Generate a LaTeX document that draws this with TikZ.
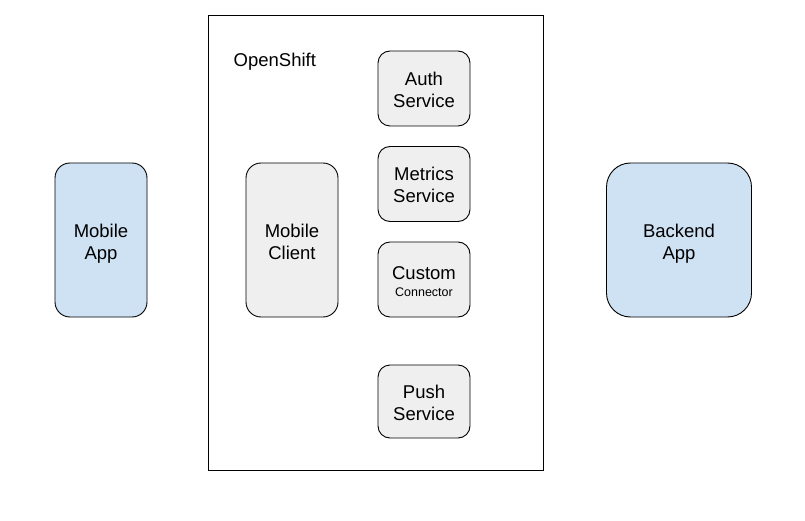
\documentclass[tikz,border=0pt]{standalone}
\usepackage{fontspec}
\setmainfont{Liberation Sans}
\usepackage{tikz}
\definecolor{appblue}{HTML}{CFE2F3}
\definecolor{svcgray}{HTML}{EFEFEF}
\def\twolines#1#2{\rule{0pt}{20pt}#1\\#2\rule[-4pt]{0pt}{4pt}}
\tikzset{
	box/.style={draw=black, line width=0.9pt, rectangle, align=center, inner sep=0pt,
		font=\fontsize{18.5}{22}\selectfont},
	appbox/.style={box, fill=appblue},
	svcbox/.style={box, fill=svcgray, rounded corners=12pt, minimum width=92pt, minimum height=75pt}
}
\begin{document}
\begin{tikzpicture}[x=1pt, y=-1pt]
		%%%%% START %%%%%
		\useasboundingbox (0, 0) rectangle (805, 521);
		
		\node[draw=black, line width=0.9pt, minimum width=335pt, minimum height=455pt, inner sep=0pt] (openshift) at (375.5, 242.5) {};
		\node[font=\fontsize{18.5}{22}\selectfont, anchor=base west, inner sep=0pt] (osname) at (233.5, 67) {OpenShift};
		
		\node[appbox, rounded corners=15pt, minimum width=92pt, minimum height=154pt] (mobileapp) at (101, 240) {\twolines{Mobile}{App}};
		\node[appbox, rounded corners=24pt, minimum width=145pt, minimum height=154pt] (backend) at (679, 240) {\twolines{Backend}{App}};
		
		\node[box, fill=svcgray, rounded corners=15pt, minimum width=92pt, minimum height=154pt] (client) at (292, 240) {\twolines{Mobile}{Client}};
		
		\node[svcbox] (auth) at (424, 88.5) {\twolines{Auth}{Service}};
		\node[svcbox] (metrics) at (424, 184) {\twolines{Metrics}{Service}};
		\node[svcbox] (custom) at (424, 279.5) {\rule{0pt}{20pt}Custom\\[-5pt]{\fontsize{12.5}{14}\selectfont Connector}\rule[-4pt]{0pt}{4pt}};
		\node[svcbox, minimum height=73pt] (push) at (424, 401.5) {\twolines{Push}{Service}};
		
		%%%%% END %%%%%
\end{tikzpicture}
\end{document}
